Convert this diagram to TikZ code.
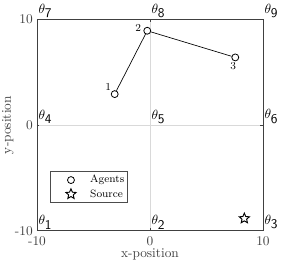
\documentclass[tikz,border=0pt]{standalone}
\usetikzlibrary{shapes.geometric, positioning}

\begin{document}
\begin{tikzpicture}[x=8.475pt, y=7.93pt, font=\small,
  axis/.style={black!75, line width=0.5pt},
  gridline/.style={black!15, line width=0.4pt},
  ticklabel/.style={text=black!75, font=\normalsize, inner sep=1pt},
  zone/.style={anchor=south west, inner sep=1pt, font=\normalsize},
  agent/.style={circle, draw, line width=0.6pt, minimum size=5.2pt, inner sep=0pt},
  source/.style={star, star points=5, star point ratio=2.2, draw, line width=0.7pt,
    minimum size=8pt, inner sep=0pt},
  tag/.style={font=\footnotesize, inner sep=0.5pt}]
  \useasboundingbox (-13.27,-13.43) rectangle (12.48,11.83);

  \coordinate (SW) at (-10,-10);
  \coordinate (NE) at (10,10);

  \draw[gridline] (0,-10) -- (0,10);
  \draw[gridline] (-10,0) -- (10,0);
  \draw[axis] (SW) rectangle (NE);
  \foreach \t in {-10,0,10} {
    \draw[axis] (\t,-10) -- ++(0,0.25);
    \draw[axis] (\t,10) -- ++(0,-0.25);
    \draw[axis] (-10,\t) -- ++(0.22,0);
    \draw[axis] (10,\t) -- ++(-0.22,0);
    \node[ticklabel, left, xshift=-2pt] at (-10,\t) {\t};
    \node[ticklabel, below, yshift=-3pt] at (\t,-10) {\t};
  }
  \node[ticklabel] at (0,-12.26) {x-position};
  \node[ticklabel, rotate=90] at (-12.57,0) {y-position};

  \node[zone] at (-10,-10) {$\theta_{\textsf{1}}$};
  \node[zone] at (0,-10) {$\theta_{\textsf{2}}$};
  \node[zone] at (10,-10) {$\theta_{\textsf{3}}$};
  \node[zone] at (-10,0) {$\theta_{\textsf{4}}$};
  \node[zone] at (0,0) {$\theta_{\textsf{5}}$};
  \node[zone] at (10,0) {$\theta_{\textsf{6}}$};
  \node[zone] at (-10,10) {$\theta_{\textsf{7}}$};
  \node[zone] at (0,10) {$\theta_{\textsf{8}}$};
  \node[zone] at (10,10) {$\theta_{\textsf{9}}$};

  \node[agent] (A1) at (-3.12,2.93) {};
  \node[agent] (A2) at (-0.24,8.92) {};
  \node[agent] (A3) at (7.55,6.40) {};
  \draw[line width=0.5pt] (A1) -- (A2) -- (A3);
  \node[tag, above left=0pt of A1] {1};
  \node[tag, left=1pt of A2, yshift=2pt] {2};
  \node[tag, below=0pt of A3, xshift=-1.5pt] {3};

  \node[source] (S) at (8.35,-8.83) {};

  \draw[black!70, fill=white, line width=0.5pt] (-8.79,-4.35) rectangle (-1.97,-7.35);
  \node[agent] (LA) at (-6.99,-5.20) {};
  \node[source] (LS) at (-6.99,-6.53) {};
  \node[font=\footnotesize, anchor=west, inner sep=0pt] at (-5.31,-5.20) {Agents};
  \node[font=\footnotesize, anchor=west, inner sep=0pt] at (-5.31,-6.53) {Source};
\end{tikzpicture}
\end{document}
